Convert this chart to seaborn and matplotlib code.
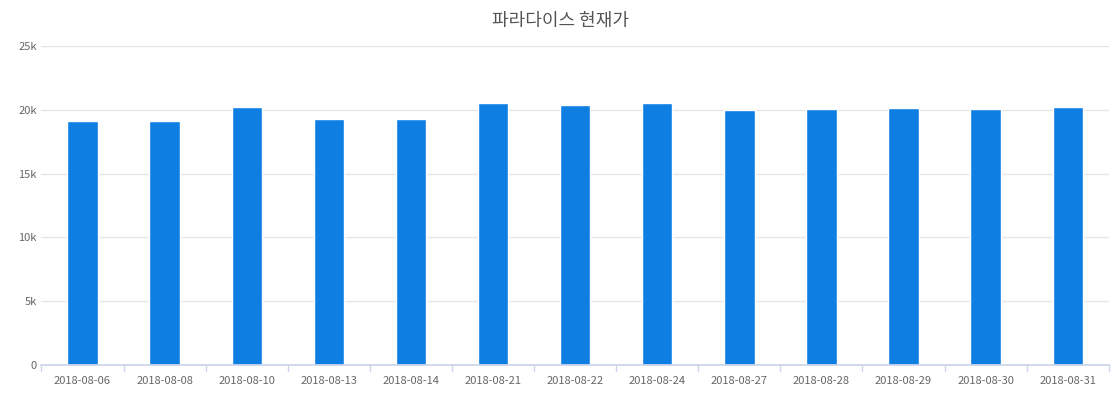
import matplotlib
matplotlib.use("Agg")
import matplotlib.pyplot as plt
import seaborn as sns
import pandas as pd
from matplotlib.ticker import FuncFormatter

dates = ["2018-08-06","2018-08-08","2018-08-10","2018-08-13","2018-08-14","2018-08-21","2018-08-22",
         "2018-08-24","2018-08-27","2018-08-28","2018-08-29","2018-08-30","2018-08-31"]
prices = [19150,19150,20200,19250,19250,20500,20350,20500,19950,20050,20100,20050,20200]

sns.set_theme(style="white")
plt.rcParams['font.family'] = ['Noto Sans CJK KR', 'DejaVu Sans']

df = pd.DataFrame({"date": dates, "price": prices})
fig = plt.figure(figsize=(11.2, 4.0), dpi=100)
ax = fig.add_axes([0.037, 0.088, 0.953, 0.797])
sns.barplot(data=df, x="date", y="price", color="#0f7ee3", width=0.37, saturation=1, ax=ax)
ax.set_ylim(0, 25000)
ax.set_yticks(range(0, 25001, 5000))
ax.yaxis.set_major_formatter(FuncFormatter(lambda v, p: "0" if v == 0 else f"{int(v/1000)}k"))
ax.grid(axis="y", color="#e6e6e6", linewidth=1)
ax.set_axisbelow(True)
for s in ["top", "right", "left"]:
    ax.spines[s].set_visible(False)
ax.spines["bottom"].set_color("#ccd6eb")
ax.tick_params(axis="both", labelsize=8, colors="#666666", length=0)
ax.set_xlabel("")
ax.set_ylabel("")
for i in range(len(dates) + 1):
    ax.plot([i - 0.5, i - 0.5], [0, -500], color="#ccd6eb", lw=1, clip_on=False)
ax.set_xlim(-0.5, len(dates) - 0.5)
ax.tick_params(axis="x", pad=8)
fig.suptitle("파라다이스 현재가", y=0.97, fontsize=13, color="#555555")
fig.savefig("out.png")
